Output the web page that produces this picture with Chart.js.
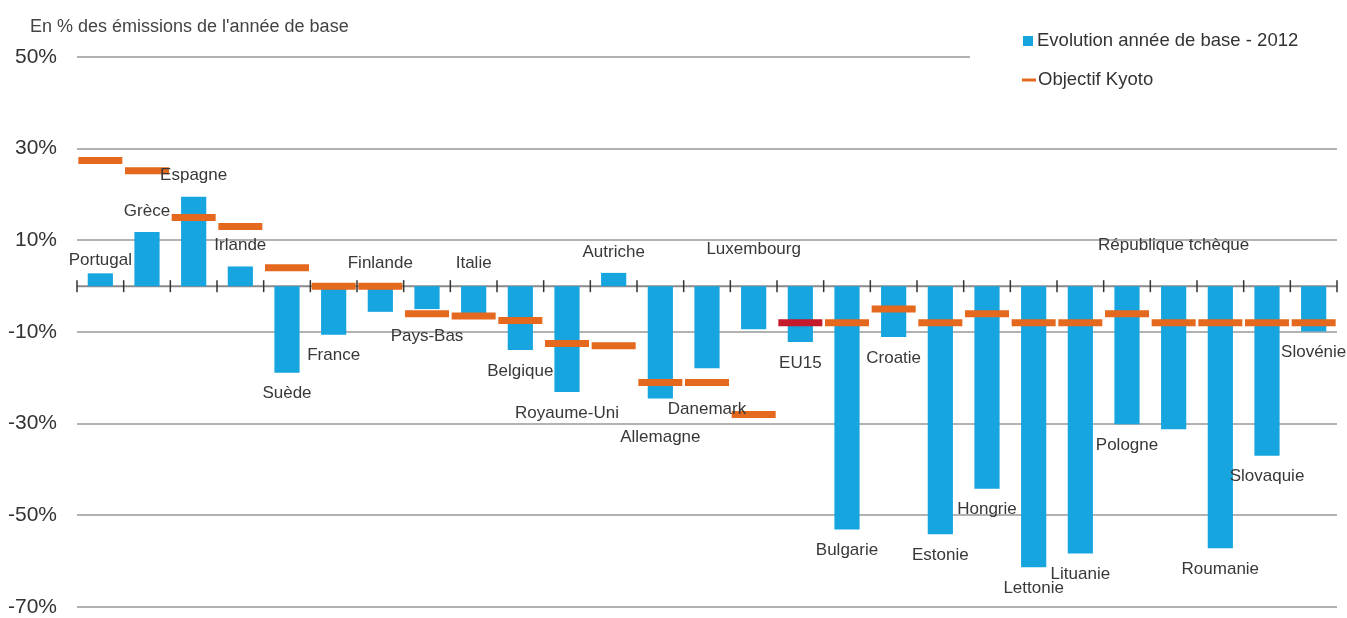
<!DOCTYPE html>
<html>
<head>
<meta charset="utf-8">
<script src="https://cdn.jsdelivr.net/npm/chart.js@4"></script>
<style>
  body { margin: 0; background: #fff; overflow: hidden; }
  canvas { display: block; }
</style>
</head>
<body>
<canvas id="myChart" width="1347" height="618"></canvas>
<script>
const categories = ['Portugal', 'Grèce', 'Espagne', 'Irlande', 'Suède', 'France', 'Finlande', 'Pays-Bas', 'Italie',
    'Belgique', 'Royaume-Uni', 'Autriche', 'Allemagne', 'Danemark', 'Luxembourg', 'EU15', 'Bulgarie', 'Croatie',
    'Estonie', 'Hongrie', 'Lettonie', 'Lituanie', 'Pologne', 'République tchèque', 'Roumanie', 'Slovaquie', 'Slovénie'];
const evolution = [2.8, 11.8, 19.5, 4.3, -18.9, -10.6, -5.6, -5.0, -6.2, -13.9, -23.1, 2.9, -24.5, -17.9, -9.4, -12.2,
    -53.1, -11.1, -54.1, -44.2, -61.3, -58.3, -30.1, -31.2, -57.2, -37.0, -9.9];
const kyoto = [27.4, 25.2, 15, 13, 4, 0, 0, -6, -6.5, -7.5, -12.5, -13, -21, -21, -28, -8, -8, -5, -8, -6, -8, -8, -6,
    -8, -8, -8, -8];
const yTicks = [50, 30, 10, -10, -30, -50, -70];
const yTitle = "En % des émissions de l'année de base";

const BLUE = '#17a5e0';
const ORANGE = '#e4681d';
const RED = '#c41a2c';

// where the country names sit (px from the end of the bar, or from zero)
const labelLayout = {
    'Portugal': { gap: 13 },
    'Finlande': { fromZero: true, gap: 23 },
    'Italie': { fromZero: true, gap: 23 },
    'Luxembourg': { fromZero: true, gap: 37 },
    'République tchèque': { fromZero: true, gap: 41 },
    'Pays-Bas': { gap: 27 },
    'Allemagne': { gap: 39 },
    'Danemark': { gap: 41 }
};

const extras = {
    id: 'extras',
    beforeDatasetsDraw(chart) {
        const ctx = chart.ctx;
        const x = chart.scales.x, y = chart.scales.y;
        const area = chart.chartArea;
        const y0 = y.getPixelForValue(0);
        const half = (x.getPixelForValue(1) - x.getPixelForValue(0)) / 2;
        ctx.save();
        ctx.strokeStyle = '#8a8a8a';
        ctx.lineWidth = 2;
        ctx.beginPath();
        ctx.moveTo(area.left, y0);
        ctx.lineTo(area.right, y0);
        ctx.stroke();
        ctx.strokeStyle = '#333';
        ctx.lineWidth = 1.5;
        for (let i = 0; i <= categories.length; i++) {
            const tx = x.getPixelForValue(i) - half;
            ctx.beginPath();
            ctx.moveTo(tx, y0 - 6);
            ctx.lineTo(tx, y0 + 6);
            ctx.stroke();
        }
        ctx.restore();
    },
    afterDraw(chart) {
        const ctx = chart.ctx;
        const y = chart.scales.y;
        const bars = chart.getDatasetMeta(1).data;
        const y0 = y.getPixelForValue(0);
        ctx.save();
        // country labels
        ctx.font = '17px "Liberation Sans", Arial, sans-serif';
        ctx.fillStyle = '#383838';
        ctx.textAlign = 'center';
        ctx.textBaseline = 'middle';
        categories.forEach((c, i) => {
            const bar = bars[i];
            const lay = labelLayout[c] || {};
            const gap = lay.gap !== undefined ? lay.gap : 21;
            let ty;
            if (lay.fromZero) ty = y0 - gap;
            else if (evolution[i] >= 0) ty = bar.y - gap;
            else ty = bar.y + gap;
            ctx.fillText(c, bar.x, ty);
        });

        // axis title
        ctx.textAlign = 'left';
        ctx.font = '18px "Liberation Sans", Arial, sans-serif';
        ctx.fillStyle = '#444';
        ctx.fillText(yTitle, 30, 27);

        // legend (covers the end of the top grid line)
        ctx.fillStyle = '#fff';
        ctx.fillRect(970, 15, 377, 90);
        const ds = chart.data.datasets;
        ctx.font = '18.5px "Liberation Sans", Arial, sans-serif';
        ctx.fillStyle = BLUE;
        ctx.fillRect(1023, 36, 10, 10);
        ctx.fillStyle = '#333';
        ctx.fillText(ds[1].label, 1037, 41);
        ctx.strokeStyle = ORANGE;
        ctx.lineWidth = 3;
        ctx.beginPath();
        ctx.moveTo(1022, 80);
        ctx.lineTo(1036, 80);
        ctx.stroke();
        ctx.fillText(ds[0].label, 1038, 80);
        ctx.restore();
    }
};

const ctx = document.getElementById('myChart').getContext('2d');
const myChart = new Chart(ctx, {
    type: 'bar',
    data: {
        labels: categories,
        datasets: [{
            type: 'line',
            label: 'Objectif Kyoto',
            data: kyoto,
            showLine: false,
            pointStyle: 'line',
            pointRadius: 22,
            pointHoverRadius: 22,
            pointBorderWidth: 7,
            pointHoverBorderWidth: 7,
            pointBorderColor: categories.map(c => c === 'EU15' ? RED : ORANGE),
            clip: false,
            order: 1
        }, {
            label: 'Evolution année de base - 2012',
            data: evolution,
            backgroundColor: BLUE,
            barPercentage: 0.54,
            categoryPercentage: 1,
            order: 2
        }]
    },
    options: {
        responsive: false,
        devicePixelRatio: 1,
        animation: false,
        layout: { autoPadding: false, padding: { top: 57, right: 10, bottom: 11, left: 0 } },
        plugins: {
            legend: { display: false },
            tooltip: { enabled: false }
        },
        scales: {
            x: { display: false },
            y: {
                min: -70,
                max: 50,
                afterBuildTicks: s => { s.ticks = yTicks.map(v => ({ value: v })); },
                afterFit: s => {
                    s.width = 77;
                    s.paddingTop = 0;
                    s.paddingBottom = 0;
                },
                ticks: {
                    callback: v => v + '%',
                    color: '#333',
                    padding: 20,
                    font: { size: 21, family: '"Liberation Sans", Arial, sans-serif' }
                },
                grid: { color: '#b2b2b2', lineWidth: 2, drawTicks: false },
                border: { display: false }
            }
        }
    },
    plugins: [extras]
});
</script>
</body>
</html>
